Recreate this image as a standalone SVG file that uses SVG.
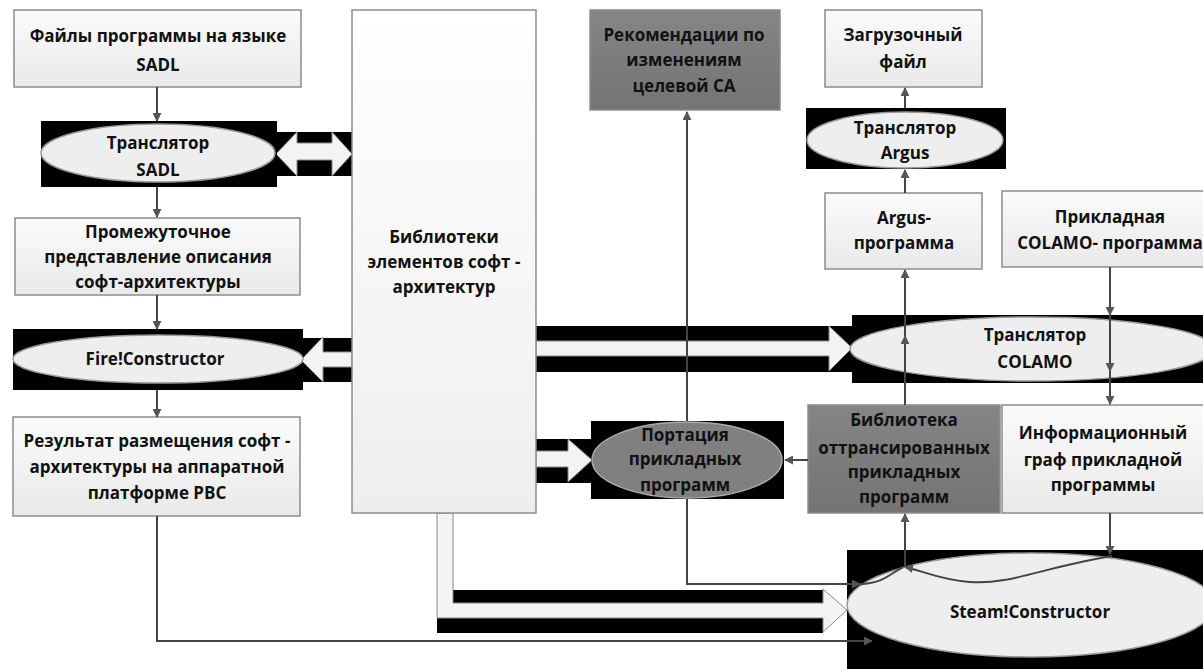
<svg xmlns="http://www.w3.org/2000/svg" width="1203" height="669" viewBox="0 0 1203 669">
<defs>
<linearGradient id="gBox" x1="0" y1="0" x2="0" y2="1"><stop offset="0" stop-color="#fbfbfb"/><stop offset="1" stop-color="#e9e9e9"/></linearGradient>
<linearGradient id="gLib" x1="0" y1="0" x2="0" y2="1"><stop offset="0" stop-color="#ffffff"/><stop offset="1" stop-color="#eeeeee"/></linearGradient>
<linearGradient id="gDark" x1="0" y1="0" x2="0" y2="1"><stop offset="0" stop-color="#858585"/><stop offset="1" stop-color="#747474"/></linearGradient>
<marker id="ah" viewBox="0 0 10 10" refX="9" refY="5" markerWidth="9" markerHeight="9" markerUnits="userSpaceOnUse" orient="auto"><path d="M0,0 L10,5 L0,10 Z" fill="#555"/></marker>
<style>
.box{fill:url(#gBox);stroke:#8c8c8c;stroke-width:1.5}
.dark{fill:url(#gDark);stroke:#8c8c8c;stroke-width:1.5}
.ell{fill:#eeeeee;stroke:#999;stroke-width:1.5}
.bk{fill:#000}
.big{fill:#f3f3f3;stroke:#8a8a8a;stroke-width:1}
.ln{fill:none;stroke:#444;stroke-width:2}
.t{font-family:"Open Sans","Liberation Sans",sans-serif;font-weight:700;font-size:17px;fill:#111;text-anchor:middle}
</style>
</defs>

<g id="bigArrows">
<rect class="bk" x="277" y="132" width="75" height="44"/>
<polygon class="big" points="276,154 297,132 297,143 332,143 332,132 352,154 332,176 332,160 297,160 297,176"/>
<rect class="bk" x="303" y="338" width="49" height="44"/>
<polygon class="big" points="301,360 323,337 323,352 352,352 352,367 323,367 323,382"/>
<rect class="bk" x="536" y="326" width="316" height="46"/>
<polygon class="big" points="536,341 829,341 829,326 852,348 829,371 829,356 536,356"/>
<rect class="bk" x="536" y="439" width="55" height="44"/>
<polygon class="big" points="536,451 568,451 568,439 592,460 568,482 568,467 536,467"/>
<rect class="bk" x="437" y="590" width="386" height="43"/>
<polygon class="big" points="437,513 453,513 453,603 823,603 823,589 847,610 823,632 823,618 437,618"/>
</g>

<g id="n-files"><rect class="box" x="14" y="10" width="287" height="77"/>
<text class="t" x="158" y="42">Файлы программы на языке</text><text class="t" x="158" y="71">SADL</text></g>

<g id="n-sadl"><rect class="bk" x="41" y="121" width="236" height="66"/>
<ellipse class="ell" cx="158" cy="153" rx="117" ry="29"/>
<text class="t" x="158" y="149">Транслятор</text><text class="t" x="158" y="176">SADL</text></g>

<g id="n-inter"><rect class="box" x="15" y="218" width="285" height="77"/>
<text class="t" x="158" y="238">Промежуточное</text><text class="t" x="158" y="263">представление описания</text><text class="t" x="158" y="288">софт-архитектуры</text></g>

<g id="n-fire"><rect class="bk" x="13" y="329" width="290" height="61"/>
<ellipse class="ell" cx="158" cy="359" rx="145" ry="24"/>
<text class="t" x="155" y="365">Fire!Constructor</text></g>

<g id="n-result"><rect class="box" x="13" y="417" width="287" height="99"/>
<text class="t" x="157" y="447">Результат размещения софт -</text><text class="t" x="157" y="473">архитектуры на аппаратной</text><text class="t" x="157" y="499">платформе РВС</text></g>

<g id="n-lib"><rect x="352" y="10" width="184" height="503" fill="url(#gLib)" stroke="#8c8c8c" stroke-width="1.5"/>
<text class="t" x="444" y="243">Библиотеки</text><text class="t" x="444" y="268">элементов софт -</text><text class="t" x="444" y="293">архитектур</text></g>

<g id="n-rec"><rect class="dark" x="590" y="10" width="190" height="100"/>
<text class="t" x="684" y="41">Рекомендации по</text><text class="t" x="684" y="66">изменениям</text><text class="t" x="684" y="92">целевой СА</text></g>

<g id="n-load"><rect class="box" x="825" y="10" width="157" height="77"/>
<text class="t" x="903" y="41">Загрузочный</text><text class="t" x="903" y="68">файл</text></g>

<g id="n-targus"><rect class="bk" x="806" y="108" width="200" height="61"/>
<ellipse class="ell" cx="905" cy="140" rx="98" ry="28"/>
<text class="t" x="905" y="134">Транслятор</text><text class="t" x="905" y="159">Argus</text></g>

<g id="n-argus"><rect class="box" x="825" y="193" width="157" height="76"/>
<text class="t" x="904" y="224">Argus-</text><text class="t" x="904" y="249">программа</text></g>

<g id="n-colprog"><rect class="box" x="1002" y="191" width="215" height="76"/>
<text class="t" x="1110" y="223">Прикладная</text><text class="t" x="1110" y="249">COLAMO- программа</text></g>

<g id="n-tcolamo"><rect class="bk" x="852" y="315" width="351" height="68"/>
<ellipse class="ell" cx="1032" cy="349" rx="182" ry="32"/>
<text class="t" x="1035" y="341">Транслятор</text><text class="t" x="1035" y="368">COLAMO</text></g>

<g id="n-port"><rect class="bk" x="591" y="421" width="193" height="78"/>
<ellipse cx="687" cy="460" rx="95" ry="38" fill="#808080" stroke="#aaa" stroke-width="1.5"/>
<text class="t" x="685" y="441">Портация</text><text class="t" x="685" y="465">прикладных</text><text class="t" x="685" y="491">программ</text></g>

<g id="n-tlib"><rect class="dark" x="808" y="405" width="192" height="108"/>
<text class="t" x="904" y="426">Библиотека</text><text class="t" x="904" y="454">оттрансированных</text><text class="t" x="904" y="478">прикладных</text><text class="t" x="904" y="503">программ</text></g>

<g id="n-graph"><rect class="box" x="1002" y="405" width="215" height="108"/>
<text class="t" x="1103" y="439">Информационный</text><text class="t" x="1103" y="466">граф прикладной</text><text class="t" x="1103" y="491">программы</text></g>

<g id="n-steam"><rect class="bk" x="847" y="550" width="356" height="119"/>
<ellipse class="ell" cx="1031" cy="605" rx="184" ry="52"/>
<text class="t" x="1030" y="618">Steam!Constructor</text></g>

<g id="connectors">
<path class="ln" d="M157,87 V121" marker-end="url(#ah)"/>
<path class="ln" d="M157,187 V217" marker-end="url(#ah)"/>
<path class="ln" d="M157,295 V329" marker-end="url(#ah)"/>
<path class="ln" d="M157,390 V417" marker-end="url(#ah)"/>
<path class="ln" d="M157,516 V641 H872" marker-end="url(#ah)"/>
<path class="ln" d="M687,421 V112" marker-end="url(#ah)"/>
<path class="ln" d="M687,499 V584 H860" marker-end="url(#ah)"/>
<path class="ln" d="M860,584 C882,584 890,574 903,567"/>
<path class="ln" d="M808,460 H785" marker-end="url(#ah)"/>
<path class="ln" d="M905,108 V88" marker-end="url(#ah)"/>
<path class="ln" d="M905,193 V170" marker-end="url(#ah)"/>
<path class="ln" d="M905,405 V336" marker-end="url(#ah)"/>
<path class="ln" d="M905,336 V270" marker-end="url(#ah)"/>
<path class="ln" d="M905,567 V514" marker-end="url(#ah)"/>
<path class="ln" d="M1112,556 C1040,568 1010,585 970,582 C940,580 920,570 905,567" marker-end="url(#ah)"/>
<path class="ln" d="M1110,267 V315" marker-end="url(#ah)"/>
<path class="ln" d="M1110,315 V371" marker-end="url(#ah)"/>
<path class="ln" d="M1110,371 V404" marker-end="url(#ah)"/>
<path class="ln" d="M1110,513 V554" marker-end="url(#ah)"/>
</g>
</svg>
